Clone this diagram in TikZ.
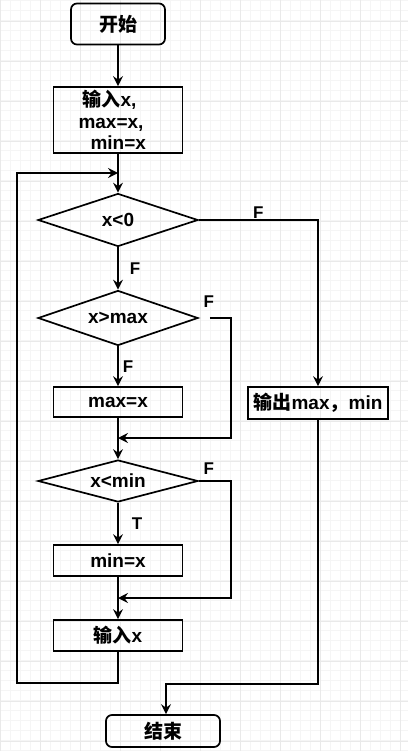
\documentclass[tikz,border=0pt]{standalone}
\usepackage{fontspec}
\setmainfont{Liberation Sans}
\newfontfamily\cjk{Noto Sans CJK SC}
\usetikzlibrary{shapes.geometric,arrows.meta}
\definecolor{gridminor}{HTML}{F5F5F5}
\definecolor{gridmajor}{HTML}{E9E9E9}

\begin{document}
\begin{tikzpicture}[x=1pt,y=-1pt,
    >={Stealth[length=10pt,width=10pt,inset=3.5pt]},
    flow/.style={line width=1.7pt},
    term/.style={draw,line width=1.7pt,rounded corners=6pt,
      font=\bfseries\fontsize{19}{21.5}\selectfont},
    proc/.style={draw,line width=1.7pt,minimum width=129pt,
      font=\bfseries\fontsize{19}{21.5}\selectfont},
    cond/.style={draw,diamond,aspect=3,inner sep=0pt,minimum width=160pt,
      line width=1.7pt,font=\bfseries\fontsize{19}{21.5}\selectfont},
    tag/.style={inner sep=0pt,font=\bfseries\fontsize{17}{20}\selectfont}]
    % Background grid
    \clip (0,0) rectangle (408,751);
    \draw[gridminor,line width=0.5pt,step=10pt] (0,0) grid (408,751);
    \draw[gridmajor,line width=0.5pt,step=40pt,shift={(0,21)}] (0,-40) grid (408,751);
    % Boxes
    \node[term,minimum width=94pt,minimum height=41pt] (start) at (118,24) {\cjk 开始};
    \node[proc,minimum height=64pt,text width=129pt,inner xsep=0pt,align=left] (init) at (118,120)
      {\hspace*{29pt}{\cjk 输入}x,\\\hspace*{25pt}max=x,\\\hspace*{37pt}min=x};
    \node[cond,minimum height=53pt] (c1) at (118,220) {x<0};
    \node[cond,minimum height=55pt] (c2) at (118,318) {x>max};
    \node[proc,minimum height=30pt] (setmax) at (118,402) {max=x};
    \node[cond,minimum height=42pt] (c3) at (118,481) {x<min};
    \node[proc,minimum height=31pt] (setmin) at (118,560.5) {min=x};
    \node[proc,minimum height=31pt] (readx) at (118,635.5) {{\cjk 输入}x};
    \node[proc,minimum width=140pt,minimum height=32pt] (print) at (318,403)
      {{\cjk 输出}max{\cjk ，}min};
    \node[term,minimum width=114pt,minimum height=32pt] (stop) at (163,731) {\cjk 结束};
    % Joints
    \coordinate (back) at (118,173);
    \coordinate (loopL) at (17,683);
    \coordinate (join1) at (118,438);
    \coordinate (join2) at (118,598);
    % Arrows
    \draw[flow,->] (start) -- (init);
    \draw[flow,->] (init) -- (c1);
    \draw[flow,->] (readx.south) |- (loopL) |- (back);
    \draw[flow,->] (c1.east) -| node[tag,pos=0.25,above=0.5pt]{F} (print.north);
    \draw[flow,->] (c1) -- node[tag,right=11pt]{F} (c2);
    \draw[flow,->,shorten <=11pt] (c2.east) -- node[tag,pos=0.31,above=10pt]{F} ++(32,0) |- (join1);
    \draw[flow,->] (c2) -- node[tag,right=4pt]{F} (setmax);
    \draw[flow,->] (setmax) -- (c3);
    \draw[flow,->] (c3.east) -- node[tag,pos=0.31,above=6pt]{F} ++(32,0) |- (join2);
    \draw[flow,->] (c3) -- node[tag,right=13pt]{T} (setmin);
    \draw[flow,->] (setmin) -- (readx);
    \draw[flow,->] (print.south) -- ++(0,264) -| ([xshift=3pt]stop.north);
  \end{tikzpicture}
\end{document}
